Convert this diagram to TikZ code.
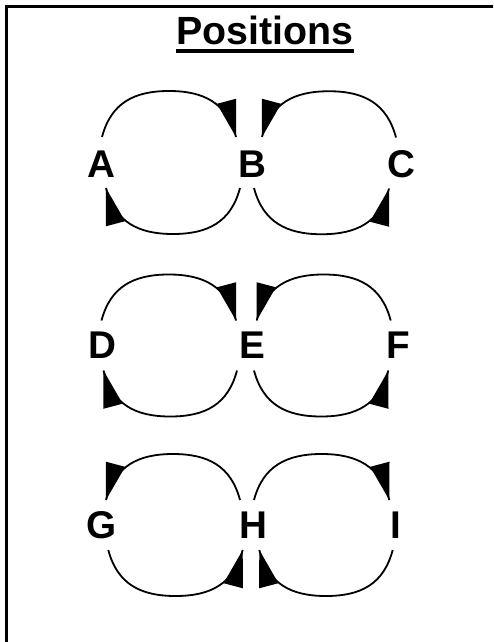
\documentclass[tikz,border=0pt]{standalone}
\usepackage{fontspec}
\setmainfont{Liberation Sans}
\usetikzlibrary{calc}
\tikzset{
  lbl/.style={font=\fontsize{29}{33}\selectfont\bfseries, inner sep=0pt, anchor=center},
  ttl/.style={font=\fontsize{29.5}{34}\selectfont\bfseries, inner sep=0pt, anchor=base},
  conn/.style={line width=1.35pt},
  frame/.style={line width=1.9pt}
}
% #1 from node, #2 x-offset, #3 to node, #4 x-offset, #5 y-offset,
% #6 bulge sign (-1 up, 1 down), #7 horizontal direction (1 right, -1 left)
\newcommand\loopconn[7]{%
  \coordinate (s) at ($(#1)+(#2,#5)$);
  \coordinate (e) at ($(#3)+(#4,#5)$);
  \coordinate (m) at ($(s)!0.5!(e)+(0,{46*(#6)})$);
  \draw[conn] (s) .. controls +({9*(#7)},{34*(#6)}) and +({-35*(#7)},0) .. (m)
                 .. controls +({35*(#7)},0) and +({-9*(#7)},{34*(#6)}) .. (e);
  \fill[shift={(e)}, xscale=#7, yscale={-1*(#6)}] (0,0) -- (0.2,-38.3) -- (-19.1,-33.2) -- cycle;
}
\begin{document}
\begin{tikzpicture}[x=0.75pt,y=-0.75pt]
\useasboundingbox (0,0) rectangle (493,642);
\clip (0,0) rectangle (493,642);
\fill[white] (0,0) rectangle (493,642);
\draw[frame] (6.6,6.6) rectangle (530,680);

\node[ttl] (title) at (265,44.5) {Positions};
\draw[line width=3pt] ($(title.base west)+(0,7)$) -- ($(title.base east)+(0,7)$);

\node[lbl] (A) at (101.5,164) {A};
\node[lbl] (B) at (252,164) {B};
\node[lbl] (C) at (401.5,164.5) {C};
\node[lbl] (D) at (102.5,345.5) {D};
\node[lbl] (E) at (252,345.5) {E};
\node[lbl] (F) at (398,345.5) {F};
\node[lbl] (G) at (101.5,525.5) {G};
\node[lbl] (H) at (253.5,525.5) {H};
\node[lbl] (I) at (396,525.5) {I};

% row 1
\loopconn{A}{0.5}{B}{-16}{-27}{-1}{1}
\loopconn{B}{-12}{A}{4.5}{24}{1}{-1}
\loopconn{C}{-5.5}{B}{10}{-27}{-1}{-1}
\loopconn{B}{2}{C}{-12.5}{24}{1}{1}
% row 2
\loopconn{D}{-1}{E}{-16}{-25}{-1}{1}
\loopconn{E}{-15}{D}{1}{25}{1}{-1}
\loopconn{F}{-7.3}{E}{4.7}{-25}{-1}{-1}
\loopconn{E}{2}{F}{-9.7}{25}{1}{1}
% row 3
\loopconn{H}{-13.5}{G}{4.5}{-25.5}{-1}{-1}
\loopconn{H}{0.5}{I}{-6.7}{-25.5}{-1}{1}
\loopconn{G}{6.8}{H}{-10.8}{24.5}{1}{1}
\loopconn{I}{-3.3}{H}{5.8}{24.5}{1}{-1}
\end{tikzpicture}
\end{document}
